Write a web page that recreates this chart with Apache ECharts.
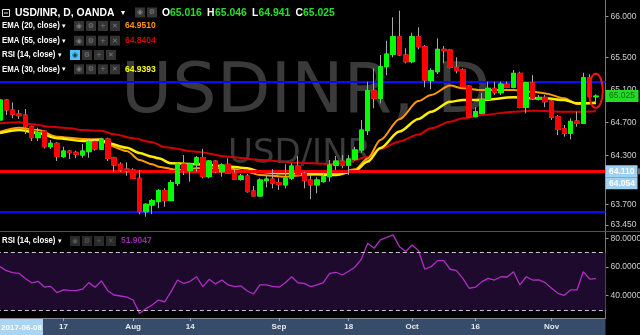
<!DOCTYPE html>
<html><head><meta charset="utf-8">
<script src="https://cdn.jsdelivr.net/npm/echarts@6/dist/echarts.min.js"></script>
<style>html,body{margin:0;padding:0;background:#000;}#c{width:640px;height:335px;}</style>
</head><body><div id="c"></div>
<script>
const dates = [
'2017-07-03','2017-07-04','2017-07-05','2017-07-06','2017-07-07','2017-07-10','2017-07-11','2017-07-12','2017-07-13','2017-07-14',
'2017-07-17','2017-07-18','2017-07-19','2017-07-20','2017-07-21','2017-07-24','2017-07-25','2017-07-26','2017-07-27','2017-07-28',
'2017-07-31','2017-08-01','2017-08-02','2017-08-03','2017-08-04','2017-08-07','2017-08-08','2017-08-09','2017-08-10','2017-08-11',
'2017-08-14','2017-08-15','2017-08-16','2017-08-17','2017-08-18','2017-08-21','2017-08-22','2017-08-23','2017-08-24','2017-08-25',
'2017-08-28','2017-08-29','2017-08-30','2017-08-31','2017-09-01','2017-09-04','2017-09-05','2017-09-06','2017-09-07','2017-09-08',
'2017-09-11','2017-09-12','2017-09-13','2017-09-14','2017-09-15','2017-09-18','2017-09-19','2017-09-20','2017-09-21','2017-09-22',
'2017-09-25','2017-09-26','2017-09-27','2017-09-28','2017-09-29','2017-10-02','2017-10-03','2017-10-04','2017-10-05','2017-10-06',
'2017-10-09','2017-10-10','2017-10-11','2017-10-12','2017-10-13','2017-10-16','2017-10-17','2017-10-18','2017-10-19','2017-10-20',
'2017-10-23','2017-10-24','2017-10-25','2017-10-26','2017-10-27','2017-10-30','2017-10-31','2017-11-01','2017-11-02','2017-11-03',
'2017-11-06','2017-11-07','2017-11-08','2017-11-09','2017-11-10','2017-11-13'];

const opens = [64.732,64.977,64.855,64.806,64.793,64.650,64.516,64.598,64.406,64.448,
64.284,64.353,64.337,64.304,64.345,64.467,64.374,64.500,64.271,64.191,
64.133,64.121,64.020,63.611,63.693,63.734,63.868,63.746,63.959,64.194,
64.113,64.194,64.271,64.039,64.231,64.100,64.191,64.081,64.007,64.048,
63.864,63.803,63.990,64.011,63.966,63.938,64.020,64.170,64.081,63.999,
63.938,63.978,64.039,64.179,64.231,64.179,64.252,64.366,64.602,65.091,
64.998,65.384,65.536,65.751,65.527,65.445,65.751,65.628,65.213,65.323,
65.597,65.588,65.377,65.344,65.148,64.773,64.814,64.985,65.120,65.066,
65.172,65.132,65.303,64.888,65.188,64.985,65.010,64.965,64.773,64.626,
64.570,64.720,64.692,65.249,65.016];
const closes = [64.977,64.855,64.802,64.785,64.650,64.516,64.577,64.406,64.448,64.284,
64.353,64.333,64.313,64.353,64.467,64.378,64.500,64.264,64.182,64.121,
64.109,64.020,63.611,63.702,63.746,63.868,63.746,63.966,64.194,64.113,
64.194,64.271,64.039,64.231,64.100,64.182,64.081,64.007,64.048,63.856,
63.803,63.999,64.011,63.959,63.941,64.020,64.170,64.060,63.990,63.938,
63.999,64.039,64.182,64.231,64.179,64.256,64.366,64.610,65.091,64.998,
65.384,65.539,65.751,65.527,65.445,65.751,65.628,65.221,65.335,65.597,
65.580,65.377,65.335,65.139,64.773,64.834,64.985,65.120,65.066,65.172,
65.132,65.303,64.888,65.188,64.998,65.010,64.956,64.765,64.619,64.569,
64.716,64.692,65.249,65.017,65.025];
const lows = [64.708,64.793,64.753,64.745,64.561,64.476,64.476,64.386,64.378,64.231,
64.271,64.256,64.264,64.271,64.271,64.357,64.366,64.231,64.097,64.097,
64.051,64.011,63.580,63.550,63.583,63.653,63.672,63.746,63.925,64.060,
63.978,64.100,64.020,64.020,64.081,64.039,64.072,63.999,63.990,63.844,
63.803,63.803,63.910,63.897,63.877,63.897,63.999,64.048,63.897,63.763,
63.836,63.966,63.978,64.121,64.142,64.060,64.235,64.333,64.549,64.875,
64.937,65.282,65.499,65.515,65.426,65.426,65.597,65.132,65.108,65.295,
65.426,65.364,65.303,65.132,64.765,64.765,64.806,64.977,65.038,65.038,
65.120,65.120,64.875,64.814,64.977,64.973,64.888,64.732,64.549,64.528,
64.496,64.650,64.683,65.010,64.941];
const highs = [65.001,64.989,64.949,64.855,64.867,64.663,64.638,64.611,64.488,64.463,
64.406,64.366,64.357,64.439,64.488,64.488,64.516,64.516,64.284,64.215,
64.215,64.142,64.121,63.714,63.767,63.885,63.898,63.999,64.210,64.304,
64.210,64.292,64.378,64.243,64.243,64.203,64.264,64.130,64.072,64.072,
63.925,64.020,64.060,64.130,64.020,64.191,64.203,64.292,64.100,64.060,
64.032,64.088,64.243,64.292,64.304,64.304,64.406,64.732,65.201,65.364,
65.527,65.702,65.988,66.069,65.609,65.800,65.866,65.649,65.364,65.731,
65.637,65.597,65.499,65.364,65.160,64.888,65.066,65.201,65.201,65.201,
65.201,65.344,65.323,65.201,65.282,65.038,65.038,64.985,64.793,64.671,
64.753,64.834,65.310,65.291,65.046];

const ema20 = [64.589,null,null,64.638,null,null,64.610,null,null,64.528,
null,null,null,64.500,null,null,64.496,64.427,null,null,
64.353,null,64.243,null,64.191,64.162,null,null,64.121,null,
null,64.142,null,null,null,null,64.142,null,null,64.100,
null,64.060,null,null,null,64.039,null,null,64.060,null,
null,null,null,64.072,null,null,64.130,null,64.262,null,
64.488,null,null,64.743,null,null,64.964,null,65.038,null,
null,65.154,null,65.120,null,null,65.099,null,null,null,
null,65.099,null,null,65.078,null,65.058,null,null,64.998,
null,64.928,null,64.937,64.9510];
const ema30 = [64.574,null,null,64.610,null,null,64.574,null,null,64.509,
null,null,null,64.476,null,null,64.490,64.448,null,null,
64.394,null,64.329,null,64.284,64.264,null,64.203,null,null,
null,64.191,null,null,null,null,64.165,null,null,64.142,
null,64.100,null,null,64.081,null,null,null,64.081,null,
null,null,null,64.060,null,null,64.113,null,64.225,null,
64.390,null,null,64.592,null,null,64.745,null,64.834,null,
null,64.956,null,64.977,null,null,64.977,null,null,null,
null,65.010,null,null,64.998,null,64.998,null,null,64.977,
null,64.937,null,null,64.9393];
const ema55 = [64.692,null,null,64.704,null,64.680,null,null,64.650,null,
null,64.631,null,64.610,null,null,64.601,null,64.557,null,
null,64.509,null,null,64.460,null,64.400,null,null,null,
null,64.345,null,null,null,null,64.284,null,null,null,
null,64.243,null,null,null,null,null,64.210,null,null,
null,null,null,64.194,null,64.222,null,null,64.280,null,
64.378,null,null,64.470,null,null,64.555,null,64.631,null,
null,64.712,null,64.753,null,null,64.793,null,null,null,
null,64.834,null,null,64.846,null,null,null,null,64.834,
null,64.834,null,null,64.8404];
const rsi14 = [60.2,57.4,56.0,55.6,52.0,49.0,50.0,46.0,46.5,42.1,
44.0,43.7,43.5,44.5,49.1,45.9,50.3,43.5,40.5,39.8,
39.0,37.0,27.7,31.0,33.5,37.0,35.8,43.0,50.9,48.5,
50.0,53.2,46.3,51.4,48.2,50.9,47.5,46.3,46.8,43.3,
41.2,47.5,47.6,46.5,45.9,49.0,53.2,49.0,48.6,46.3,
47.5,49.1,55.6,56.3,54.4,57.0,60.0,65.5,76.5,73.0,
78.8,80.5,82.3,74.1,70.7,75.3,71.4,58.4,60.2,64.4,
64.4,58.4,57.4,52.0,45.2,45.9,49.8,52.1,50.9,53.2,
53.0,56.7,47.5,53.2,50.9,51.0,49.1,45.2,41.7,40.3,
44.0,44.0,56.7,51.6,51.9047];

const hLevels = [65.2, 64.105, 63.614];
const levelColors = ['#0a0aff', '#ff0000', '#0a0aff'];
const levelWidths = [2, 3, 2];
const priceTicks = [66.0, 65.5, 65.1, 64.7, 64.3, 63.7, 63.45];
const rsiTicks = [80, 60, 40];
const rsiBands = [70, 30];
const tickDates = ['2017-07-17','2017-08-01','2017-08-14','2017-09-01','2017-09-18','2017-10-02','2017-10-16','2017-11-01'];
const tickTexts = ['17','Aug','14','Sep','18','Oct','16','Nov'];
const levelLabels = ['64.110', '64.054'];
const ohlcLast = ['65.016','65.046','64.941','65.025'];
const cursorDate = '2017-06-08';
const ellipsePrice = 65.09;

const wickData = opens.map((o,i)=>[o, closes[i], lows[i], highs[i]]);
const bodyData = opens.map((o,i)=>[o, closes[i], Math.min(o,closes[i]), Math.max(o,closes[i])]);
const isTick = (idx, v) => tickDates.indexOf(v) >= 0;
const FONT = '"Liberation Sans", Arial, sans-serif';

const option = {
  backgroundColor: '#000',
  animation: false,
  grid: [
    {left: -3.17, top: 0, width: 608.64, height: 231, outerBoundsMode: 'none', containLabel: false},
    {left: -3.17, top: 231, width: 608.64, height: 87, outerBoundsMode: 'none', containLabel: false}
  ],
  xAxis: [
    {type: 'category', gridIndex: 0, data: dates, boundaryGap: true,
     axisLine: {show: false}, axisTick: {show: false}, axisLabel: {show: false}, splitLine: {show: false}},
    {type: 'category', gridIndex: 1, data: dates, boundaryGap: true, z: 50,
     axisLine: {show: true, lineStyle: {color: '#8a8a8a', width: 1}},
     axisTick: {show: true, interval: isTick, alignWithLabel: true, length: 3, lineStyle: {color: '#9aa4b4'}},
     axisLabel: {interval: isTick, formatter: v => tickTexts[tickDates.indexOf(v)] || '',
                 color: '#e8e8e8', fontSize: 8, fontWeight: 'bold', fontFamily: FONT, margin: 5},
     splitLine: {show: false}}
  ],
  yAxis: [
    {type: 'value', gridIndex: 0, position: 'right', min: 63.375, max: 66.2,
     splitLine: {show: false},
     axisLine: {show: true, lineStyle: {color: '#777'}},
     axisTick: {show: true, customValues: priceTicks, length: 3, lineStyle: {color: '#999'}},
     axisLabel: {customValues: priceTicks, formatter: v => v.toFixed(3), color: '#cfcfcf',
                 fontSize: 8.5, fontFamily: FONT, margin: 5}},
    {type: 'value', gridIndex: 1, position: 'right', min: 24.5, max: 85,
     splitLine: {show: false},
     axisLine: {show: true, lineStyle: {color: '#777'}},
     axisTick: {show: true, customValues: rsiTicks, length: 3, lineStyle: {color: '#999'}},
     axisLabel: {customValues: rsiTicks, formatter: v => v.toFixed(4), color: '#cfcfcf',
                 fontSize: 8.5, fontFamily: FONT, margin: 5}}
  ],
  series: [
    {type: 'line', name: 'EMA55', data: ema55, connectNulls: true, smooth: 0.3, smoothMonotone: 'x',
     showSymbol: false, silent: true, lineStyle: {color: '#d20000', width: 2}, z: 2},
    {type: 'line', name: 'EMA20', data: ema20, connectNulls: true, smooth: 0.3, smoothMonotone: 'x',
     showSymbol: false, silent: true, lineStyle: {color: '#ff9a00', width: 2}, z: 3},
    {type: 'line', name: 'EMA30', data: ema30, connectNulls: true, smooth: 0.3, smoothMonotone: 'x',
     showSymbol: false, silent: true, lineStyle: {color: '#ffee00', width: 2.5}, z: 4},
    {type: 'candlestick', name: 'wick', data: wickData, barWidth: 5, silent: true, z: 5,
     itemStyle: {color: '#a8a8a8', color0: '#a8a8a8', borderColor: '#a8a8a8', borderColor0: '#a8a8a8', borderWidth: 1}},
    {type: 'candlestick', name: 'body', data: bodyData, barWidth: 5, silent: true, z: 6,
     itemStyle: {color: '#00ff00', color0: '#ff0000', borderColor: '#00ff00', borderColor0: '#ff0000', borderWidth: 1}},
    {type: 'line', name: 'levels', data: dates.map(() => null), showSymbol: false, z: 7, silent: true,
     markLine: {silent: true, symbol: ['none', 'none'], label: {show: false}, animation: false,
       data: hLevels.map((v, i) => ({yAxis: v, lineStyle: {color: levelColors[i], width: levelWidths[i], type: 'solid'}}))}},
    {type: 'line', name: 'rsiBand', xAxisIndex: 1, yAxisIndex: 1, data: dates.map(() => null), showSymbol: false, z: 1, silent: true,
     markArea: {silent: true, itemStyle: {color: '#1e0a2c'}, data: [[{yAxis: rsiBands[1]}, {yAxis: rsiBands[0]}]]},
     markLine: {silent: true, symbol: ['none', 'none'], label: {show: false}, animation: false,
       lineStyle: {color: '#c8c8c8', width: 1, type: [4, 3]},
       data: rsiBands.map(v => ({yAxis: v}))}},
    {type: 'line', name: 'RSI', xAxisIndex: 1, yAxisIndex: 1, data: rsi14, showSymbol: false, silent: true,
     lineStyle: {color: '#b02ec6', width: 1.3}, z: 3}
  ]
};

const chart = echarts.init(document.getElementById('c'), null, {renderer: 'canvas', width: 640, height: 335});
chart.setOption(option);

function T(str, x, y, font, fill, sx, z, align) {
  return {type: 'text', x: x, y: y, scaleX: sx || 1, z: z || 100, silent: true,
    style: {text: str, x: 0, y: 0, fill: fill, font: font, textAlign: align || 'left', textVerticalAlign: 'middle'}};
}
function R(x, y, w, h, fill, z) {
  return {type: 'rect', shape: {x: x, y: y, width: w, height: h}, style: {fill: fill}, z: z || 99, silent: true};
}
function icon(x, yc, fill, glyph, gc) {
  return [R(x, yc - 5, 10, 10, fill, 99), T(glyph, x + 5, yc, '7px "DejaVu Sans"', gc, 1, 100, 'center')];
}

const G = [];
const lastIdx = closes.length - 1;
const yOf = v => chart.convertToPixel({yAxisIndex: 0}, v);
const xOf = i => chart.convertToPixel({xAxisIndex: 0}, i);

// watermarks
G.push(T('USDINR, D', 121, 94, '70px "DejaVu Sans"', '#3a3a3a', 1, 1));
G.push(T('USD/INR', 228, 154, '34px "DejaVu Sans"', '#3a3a3a', 1, 1));

// bottom date strip
G.push(R(0, 319, 605.5, 16, '#374b6a', 1));
G.push(R(0, 319, 43, 16, '#a9d5f3', 60));
G.push(T(cursorDate, 21.5, 327.5, 'bold 8px ' + FONT, '#ffffff', 1, 61, 'center'));

// pane separator
G.push({type: 'line', shape: {x1: 0, y1: 231.5, x2: 640, y2: 231.5}, style: {stroke: '#555', lineWidth: 1}, z: 40, silent: true});

// top legend row 1
G.push({type: 'rect', shape: {x: 2.5, y: 9.5, width: 7, height: 7}, style: {fill: 'none', stroke: '#dddddd', lineWidth: 1}, z: 100, silent: true});
G.push({type: 'line', shape: {x1: 4, y1: 13, x2: 8, y2: 13}, style: {stroke: '#dddddd', lineWidth: 1}, z: 100, silent: true});
const f1 = 'bold 11.5px ' + FONT;
G.push(T('USD/INR, D, OANDA', 15, 13, f1, '#ffffff', 0.9));
G.push(T('▾', 121, 13, '8px "DejaVu Sans"', '#ffffff'));
G.push(...icon(135, 12.5, '#353535', '◉', '#808080'));
G.push(...icon(147, 12.5, '#353535', '⚙', '#808080'));
const ohlcX = [[162, 170], [207, 215], [252, 258.5], [295.5, 303]];
['O', 'H', 'L', 'C'].forEach((k, i) => {
  G.push(T(k, ohlcX[i][0], 13, f1, '#ffffff', 0.9));
  G.push(T(ohlcLast[i], ohlcX[i][1], 13, f1, '#22e022', 0.9));
});

// indicator rows
const f2 = 'bold 8.5px ' + FONT;
const rows = [
  {name: 'EMA (20, close)', y: 26, val: ema20[lastIdx].toFixed(4), col: '#ff9800', eye: false},
  {name: 'EMA (55, close)', y: 40.7, val: ema55[lastIdx].toFixed(4), col: '#d00000', eye: false},
  {name: 'RSI (14, close)', y: 55, val: '', col: '#fff', eye: true},
  {name: 'EMA (30, close)', y: 69.3, val: ema30[lastIdx].toFixed(4), col: '#ffff00', eye: false}
];
rows.forEach(r => {
  G.push(T(r.name, 2, r.y, f2, '#ffffff', 0.92));
  if (r.eye) {
    G.push(T('▾', 58, r.y, '7px "DejaVu Sans"', '#ffffff'));
    G.push(...icon(70, r.y, '#4fc3f7', '◉', '#1a3a4a'));
    G.push(...icon(82, r.y, '#333', '⚙', '#7a7a7a'));
    G.push(...icon(94, r.y, '#333', '+', '#7a7a7a'));
    G.push(...icon(106, r.y, '#333', '✕', '#7a7a7a'));
  } else {
    G.push(T('▾', 62, r.y, '7px "DejaVu Sans"', '#ffffff'));
    G.push(...icon(74, r.y, '#333', '◉', '#7a7a7a'));
    G.push(...icon(86, r.y, '#333', '⚙', '#7a7a7a'));
    G.push(...icon(98, r.y, '#333', '+', '#7a7a7a'));
    G.push(...icon(110, r.y, '#333', '✕', '#7a7a7a'));
    G.push(T(r.val, 125, r.y, f2, r.col, 1));
  }
});

// RSI legend
G.push(T('RSI (14, close)', 2, 241, f2, '#ffffff', 0.92));
G.push(T('▾', 58, 241, '7px "DejaVu Sans"', '#ffffff'));
G.push(...icon(70, 241, '#2a2a2a', '◉', '#5a5a5a'));
G.push(...icon(82, 241, '#2a2a2a', '⚙', '#5a5a5a'));
G.push(...icon(94, 241, '#2a2a2a', '+', '#5a5a5a'));
G.push(...icon(106, 241, '#2a2a2a', '✕', '#5a5a5a'));
G.push(T(rsi14[lastIdx].toFixed(4), 121, 241, f2, '#9c27b0', 1));

// price axis boxes
const yc = yOf(closes[lastIdx]);
G.push(R(605.5, yc - 6, 33, 12, '#22dd22', 110));
G.push(T(closes[lastIdx].toFixed(3), 609, yc, '8.5px ' + FONT, '#0e6a0e', 1, 111));
const yl = yOf(hLevels[1]);
G.push(R(605.5, yl - 6, 32, 12, '#9fd2f2', 110));
G.push(T(levelLabels[0], 609, yl, 'bold 8.5px ' + FONT, '#ffffff', 1, 111));
G.push(R(637.5, yl - 3, 3, 6, '#5a6478', 110));
G.push(R(605.5, yl + 6, 32, 12, '#9fd2f2', 110));
G.push(T(levelLabels[1], 609, yl + 12, 'bold 8.5px ' + FONT, '#ffffff', 1, 111));

// ellipse annotation around last bars
const ex = (xOf(lastIdx - 1) + xOf(lastIdx)) / 2 + 3;
const ey = yOf(ellipsePrice);
G.push({type: 'ellipse', shape: {cx: ex, cy: ey, rx: 7, ry: 17}, style: {fill: 'none', stroke: '#ff1010', lineWidth: 2}, z: 30, silent: true});

chart.setOption({graphic: G});
</script>
</body></html>
